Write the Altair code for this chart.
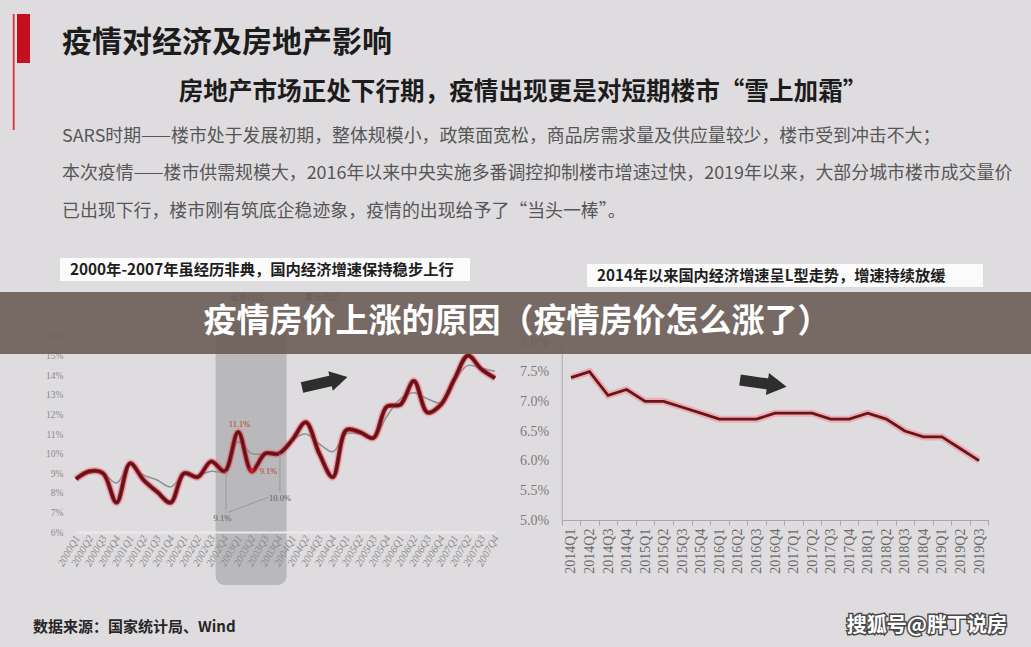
import altair as alt
import pandas as pd

W, H = 1031, 647
BG = "#dfdcdf"
CJK = "Noto Sans CJK SC"
SERIF = "Liberation Serif"

# ---------------- text content ----------------
title_text = ["疫情对经济及房地产影响"]
subtitle_text = ["房地产市场正处下行期，疫情出现更是对短期楼市“雪上加霜”"]
body_lines = [
    "SARS时期——楼市处于发展初期，整体规模小，政策面宽松，商品房需求量及供应量较少，楼市受到冲击不大；",
    "本次疫情——楼市供需规模大，2016年以来中央实施多番调控抑制楼市增速过快，2019年以来，大部分城市楼市成交量价",
    "已出现下行，楼市刚有筑底企稳迹象，疫情的出现给予了“当头一棒”。",
]
left_caption = ["2000年-2007年虽经历非典，国内经济增速保持稳步上行"]
right_caption = ["2014年以来国内经济增速呈L型走势，增速持续放缓"]
legend_items = ["当季同比", "累计同比"]
banner_text = ["疫情房价上涨的原因（疫情房价怎么涨了）"]
source_text = ["数据来源：国家统计局、Wind"]
watermark_text = ["搜狐号@胖丁说房"]

# ---------------- left chart data (2000-2007, %) ----------------
quarters_a = ["2000Q1", "2000Q2", "2000Q3", "2000Q4", "2001Q1", "2001Q2", "2001Q3", "2001Q4",
              "2002Q1", "2002Q2", "2002Q3", "2002Q4", "2003Q1", "2003Q2", "2003Q3", "2003Q4",
              "2004Q1", "2004Q2", "2004Q3", "2004Q4", "2005Q1", "2005Q2", "2005Q3", "2005Q4",
              "2006Q1", "2006Q2", "2006Q3", "2006Q4", "2007Q1", "2007Q2", "2007Q3", "2007Q4"]
gdp_quarter_a = [8.7, 9.1, 9.0, 7.5, 9.5, 8.65, 8.05, 7.5,
                 9.0, 8.8, 9.6, 9.1, 11.1, 9.1, 10.0, 10.0,
                 10.7, 11.6, 10.0, 8.8, 11.2, 11.1, 10.8, 12.4,
                 12.5, 13.7, 12.1, 12.5, 13.8, 15.0, 14.3, 13.85]
gdp_cum_a = [8.7, 9.0, 9.0, 8.5, 9.4, 8.9, 8.65, 8.3,
             8.9, 8.9, 9.1, 9.1, 10.6, 10.0, 10.0, 10.0,
             10.7, 11.0, 10.5, 10.1, 11.0, 11.0, 10.8, 11.9,
             12.8, 13.1, 12.8, 12.6, 13.7, 14.5, 14.35, 14.2]
y_ticks_a = [6, 7, 8, 9, 10, 11, 12, 13, 14, 15, 16]

# SARS highlight (quarter-index extent) and annotations
sars_start = [10.33]
sars_end = [15.58]
red_label_i = [12.1, 13.0]
red_label_v = [11.1, 9.1]
red_label_t = ["11.1%", "9.1%"]
gray_label_i = [10.83, 15.1]
gray_label_v = [6.70, 7.74]
gray_label_t = ["9.1%", "10.0%"]
conn_i = [11.1, 11.26, 15.09]
conn_v = [9.1, 7.0, 10.0]
conn_i2 = [11.1, 14.22, 15.09]
conn_v2 = [7.12, 7.77, 8.06]

# ---------------- right chart data (2014-2019, %) ----------------
quarters_b = ["2014Q1", "2014Q2", "2014Q3", "2014Q4", "2015Q1", "2015Q2", "2015Q3", "2015Q4",
              "2016Q1", "2016Q2", "2016Q3", "2016Q4", "2017Q1", "2017Q2", "2017Q3", "2017Q4",
              "2018Q1", "2018Q2", "2018Q3", "2018Q4", "2019Q1", "2019Q2", "2019Q3"]
gdp_b = [7.4, 7.5, 7.1, 7.2, 7.0, 7.0, 6.9, 6.8,
         6.7, 6.7, 6.7, 6.8, 6.8, 6.8, 6.7, 6.7,
         6.8, 6.7, 6.5, 6.4, 6.4, 6.2, 6.0]
y_ticks_b = [5.0, 5.5, 6.0, 6.5, 7.0, 7.5, 8.0]

one = pd.DataFrame({"k": [0]})


def txt(values, x, y, size, color, weight="normal", align="left", font=CJK, **kw):
    df = pd.DataFrame({"t": values})
    return alt.Chart(df).mark_text(
        font=font, fontSize=size, color=color, fontWeight=weight,
        align=align, baseline="middle", **kw
    ).encode(x=alt.value(x), y=alt.value(y), text="t:N")


def box(x, x2, y, y2, color, **kw):
    return alt.Chart(one).mark_rect(color=color, **kw).encode(
        x=alt.value(x), x2=alt.value(x2), y=alt.value(y), y2=alt.value(y2))


# ---------------- left chart ----------------
dfa = pd.DataFrame({"i": list(range(len(quarters_a))), "q": quarters_a,
                    "v": gdp_quarter_a, "c": gdp_cum_a})
xa = alt.Scale(domain=[0, len(quarters_a) - 1], range=[76, 495], nice=False, zero=False)
ya = alt.Scale(domain=[6, 16], range=[532, 336], nice=False, zero=False)
ax_xa = alt.Axis(orient="bottom", offset=-(H - 532), labels=False, ticks=False, grid=False,
                 title=None, domain=True, domainColor="#ebe9eb", domainWidth=2, zindex=1)
ax_ya = alt.Axis(orient="left", offset=-70, values=y_ticks_a,
                 labelExpr="format(datum.value, 'd') + '%'", ticks=False, grid=False,
                 domain=False, title=None, labelFont=SERIF, labelFontSize=9.5,
                 labelColor="#8a8a8a", labelPadding=7, labelOverlap=False, labelFlush=False)

hl = alt.Chart(pd.DataFrame({"s": sars_start, "e": sars_end})).mark_rect(
    color="#b9b8bb", cornerRadius=9).encode(
    x=alt.X("s:Q", scale=xa, axis=ax_xa), x2="e:Q",
    y=alt.value(322), y2=alt.value(585))

base_a = alt.Chart(dfa)
cum_line = base_a.mark_line(color="#8c9292", strokeWidth=1.5, interpolate="catmull-rom").encode(
    x=alt.X("i:Q", scale=xa, axis=ax_xa), y=alt.Y("c:Q", scale=ya, axis=ax_ya))
glow_a = base_a.mark_line(color="#e0606e", strokeWidth=7.5, opacity=0.35,
                          interpolate="catmull-rom").encode(
    x=alt.X("i:Q", scale=xa, axis=ax_xa), y=alt.Y("v:Q", scale=ya, axis=ax_ya))
mid_a = base_a.mark_line(color="#b3222f", strokeWidth=4.5, interpolate="catmull-rom").encode(
    x=alt.X("i:Q", scale=xa, axis=ax_xa), y=alt.Y("v:Q", scale=ya, axis=ax_ya))
core_a = base_a.mark_line(color="#5c1419", strokeWidth=2.6, interpolate="catmull-rom").encode(
    x=alt.X("i:Q", scale=xa, axis=ax_xa), y=alt.Y("v:Q", scale=ya, axis=ax_ya))
xlabels_a = base_a.mark_text(font=SERIF, fontSize=10.5, fontStyle="italic", color="#8a8a8a",
                             angle=300, align="right", baseline="middle", dx=3).encode(
    x=alt.X("i:Q", scale=xa, axis=ax_xa), y=alt.value(539), text="q:N")

conn = alt.Chart(pd.DataFrame({"i": conn_i, "v": conn_v, "i2": conn_i2, "v2": conn_v2})).mark_rule(
    color="#9a9a9a", strokeWidth=1).encode(
    x=alt.X("i:Q", scale=xa, axis=ax_xa), y=alt.Y("v:Q", scale=ya, axis=ax_ya),
    x2="i2:Q", y2="v2:Q")
red_df = pd.DataFrame({"i": red_label_i, "v": red_label_v, "t": red_label_t})
red_t1 = alt.Chart(red_df.iloc[[0]]).mark_text(
    font=SERIF, fontSize=8.5, color="#c0392b", dy=-8, align="center").encode(
    x=alt.X("i:Q", scale=xa, axis=ax_xa), y=alt.Y("v:Q", scale=ya, axis=ax_ya), text="t:N")
red_t2 = alt.Chart(red_df.iloc[[1]]).mark_text(
    font=SERIF, fontSize=8.5, color="#c0392b", dx=8, align="left").encode(
    x=alt.X("i:Q", scale=xa, axis=ax_xa), y=alt.Y("v:Q", scale=ya, axis=ax_ya), text="t:N")
red_mark = alt.Chart(red_df.iloc[[1]]).mark_point(
    shape="triangle-down", filled=True, color="#c0202a", size=45, opacity=1).encode(
    x=alt.X("i:Q", scale=xa, axis=ax_xa), y=alt.Y("v:Q", scale=ya, axis=ax_ya))
gray_t = alt.Chart(pd.DataFrame({"i": gray_label_i, "v": gray_label_v, "t": gray_label_t})).mark_text(
    font=SERIF, fontSize=8.5, color="#5e5e5e", align="center").encode(
    x=alt.X("i:Q", scale=xa, axis=ax_xa), y=alt.Y("v:Q", scale=ya, axis=ax_ya), text="t:N")

left = alt.layer(hl, cum_line, glow_a, mid_a, core_a, xlabels_a, conn, red_mark,
                 red_t1, red_t2, gray_t)

# ---------------- right chart ----------------
dfb = pd.DataFrame({"q": quarters_b, "v": gdp_b})
xb = alt.Scale(type="band", domain=quarters_b, range=[561.7, 988.3], paddingInner=0, paddingOuter=0)
yb = alt.Scale(domain=[5.0, 8.0], range=[520, 342], nice=False, zero=False)
ax_xb = alt.Axis(orient="bottom", offset=-(H - 520), tickBand="extent", ticks=True, tickSize=5,
                 tickColor="#a8a8a8", domainColor="#a8a8a8", grid=False, title=None,
                 labelAngle=270, labelAlign="right", labelBaseline="middle",
                 labelFont=SERIF, labelFontSize=14, labelColor="#6a6a6a", labelPadding=3,
                 labelOverlap=False)
ax_yb = alt.Axis(orient="left", offset=-561.7, values=y_ticks_b,
                 labelExpr="format(datum.value, '.1f') + '%'", ticks=False, grid=False,
                 domain=True, domainColor="#a8a8a8", title=None, labelFont=SERIF,
                 labelFontSize=14, labelColor="#7a7a7a", labelPadding=13,
                 labelOverlap=False, labelFlush=False)
base_b = alt.Chart(dfb)
glow_b = base_b.mark_line(color="#f08a8f", strokeWidth=7, opacity=0.55).encode(
    x=alt.X("q:N", scale=xb, axis=ax_xb, sort=None, bandPosition=0.5),
    y=alt.Y("v:Q", scale=yb, axis=ax_yb))
core_b = base_b.mark_line(color="#6a1418", strokeWidth=2.8).encode(
    x=alt.X("q:N", scale=xb, axis=ax_xb, sort=None, bandPosition=0.5),
    y=alt.Y("v:Q", scale=yb, axis=ax_yb))
right = alt.layer(glow_b, core_b)

# ---------------- decorations ----------------
red_bar = box(17, 30, 14, 63, "#c4101c")
red_line = box(12.8, 14.6, 14, 130, "#d2343e")


def arrow(x1, y1, x2, y2, ang, size):
    body = alt.Chart(one).mark_rule(color="#2e2e2e", strokeWidth=11, strokeCap="butt").encode(
        x=alt.value(x1), y=alt.value(y1), x2=alt.value(x2), y2=alt.value(y2))
    head = alt.Chart(one).mark_point(shape="triangle-right", filled=True, color="#2e2e2e",
                                     opacity=1, size=size, angle=ang).encode(
        x=alt.value(x2), y=alt.value(y2))
    return [body, head]


arrow_l = arrow(302, 387.5, 339, 379, 347, 400)
arrow_r = arrow(740, 380, 777, 385.3, 8, 500)

layers = [
    red_line, red_bar,
    txt(title_text, 62, 43, 30, "#1c1c1c", weight="bold"),
    txt(subtitle_text, 523, 93, 24.6, "#1c1c1c", weight="bold", align="center"),
    txt(body_lines[0:1], 62, 137, 17.9, "#565656"),
    txt(body_lines[1:2], 62, 174, 17.9, "#565656"),
    txt(body_lines[2:3], 62, 212, 17.9, "#565656"),
    box(60, 470, 258, 281, "#fbfbfb"),
    txt(left_caption, 70, 270, 15.3, "#1e1e1e", weight="bold"),
    box(587, 983, 264, 287, "#fbfbfb"),
    txt(right_caption, 597, 276, 15.2, "#1e1e1e", weight="bold"),
    txt(legend_items[0:1], 230, 296.5, 8.5, "#444444"),
    txt(legend_items[1:2], 305, 296.5, 8.5, "#444444"),
    left,
    right,
    *arrow_l, *arrow_r,
    box(0, W, 292, 354, "#6b5d58", opacity=0.9),
    txt(banner_text, 517, 322, 33, "#ffffff", weight="bold", align="center"),
    txt(source_text, 33, 627, 15, "#262626", weight="bold"),
    txt(watermark_text, 1007, 626, 20, "#4a4a4a", weight="bold", align="right",
        stroke="#4a4a4a", strokeWidth=3),
    txt(watermark_text, 1007, 626, 20, "#ffffff", weight="bold", align="right"),
]

chart = alt.layer(*layers).resolve_scale(
    x="independent", y="independent"
).properties(
    width=W, height=H, background=BG, padding=0,
    autosize=alt.AutoSizeParams(type="none"),
).configure_view(stroke=None)

chart.save("out.html", embed_options={"renderer": "svg", "actions": False})
